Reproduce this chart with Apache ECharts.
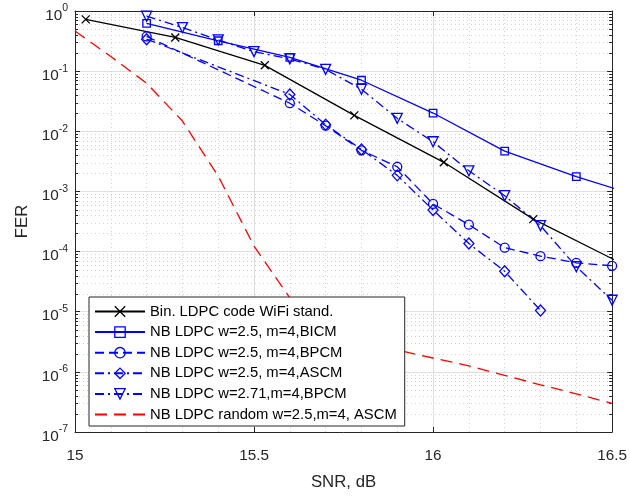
<!DOCTYPE html>
<html>
<head>
<meta charset="utf-8">
<script src="https://cdn.jsdelivr.net/npm/echarts@6/dist/echarts.min.js"></script>
<style>html,body{margin:0;padding:0;background:#fff}#c{width:630px;height:496px}</style>
</head>
<body>
<div id="c"></div>
<script>
// ---- data ----
const seriesNames = [
  'Bin. LDPC code WiFi stand.',
  'NB LDPC w=2.5, m=4,BICM',
  'NB LDPC w=2.5, m=4,BPCM',
  'NB LDPC w=2.5, m=4,ASCM',
  'NB LDPC w=2.71,m=4,BPCM',
  'NB LDPC random w=2.5,m=4, ASCM'
];
const snrBin  = [15.03, 15.28, 15.53, 15.78, 16.03, 16.28, 16.53];
const ferBin  = [0.726, 0.363, 0.125, 0.0184, 0.00305, 0.000346, 0.000062];
const snrBicm = [15.2, 15.4, 15.6, 15.8, 16.0, 16.2, 16.4, 16.6];
const ferBicm = [0.624, 0.32, 0.17, 0.0706, 0.0201, 0.00468, 0.00176, 0.00075];
const snrBpcm = [15.2, 15.6, 15.7, 15.8, 15.9, 16.0, 16.1, 16.2, 16.3, 16.4, 16.5];
const ferBpcm = [0.378, 0.0293, 0.0124, 0.00483, 0.00257, 0.00062, 0.00028, 0.000116, 0.000084, 0.000065, 0.000058];
const snrAscm = [15.2, 15.6, 15.7, 15.8, 15.9, 16.0, 16.1, 16.2, 16.3];
const ferAscm = [0.34, 0.041, 0.0129, 0.005, 0.00185, 0.00049, 0.000136, 0.000047, 0.0000105];
const snrW271 = [15.2, 15.3, 15.4, 15.5, 15.6, 15.7, 15.8, 15.9, 16.0, 16.1, 16.2, 16.3, 16.4, 16.5];
const ferW271 = [0.82, 0.53, 0.33, 0.211, 0.16, 0.107, 0.05, 0.0164, 0.0067, 0.0022, 0.00085, 0.00027, 0.000056, 0.0000155];
const snrRand = [15.0, 15.1, 15.2, 15.3, 15.4, 15.5, 15.6, 15.7, 15.8, 15.9, 16.0, 16.1, 16.2, 16.3, 16.4, 16.5];
const ferRand = [0.466, 0.175, 0.063, 0.0148, 0.0018, 0.000123, 0.000017, 0.0000063, 0.0000035, 0.0000023, 0.0000017, 0.00000126, 0.00000087, 0.00000061, 0.00000043, 0.0000003];

const xMin = 15, xMax = 16.5, xStep = 0.5;
const yMin = 1e-7, yMax = 1;
const yMinorMantissas = [2, 3, 4, 5, 6, 7, 8, 9];
const yDecades = [-7, -6, -5, -4, -3, -2, -1];

// ---- chart ----
const FONT = '"Liberation Sans", Arial, Helvetica, sans-serif';
const AX = '#262626';
const pair = (xs, ys) => xs.map((x, i) => [x, ys[i]]);
const minorVals = [];
yDecades.forEach(e => yMinorMantissas.forEach(m => minorVals.push([xMin, m * Math.pow(10, e)])));

const seriesColors = ['#000000', '#0000ff', '#0000ff', '#0000ff', '#0000ff', '#ff0000'];

function mk(name, xs, ys, color, dash, symbol, size, rot) {
  return {
    name, type: 'line', data: pair(xs, ys),
    symbol, symbolSize: size, symbolRotate: rot || 0, showSymbol: true,
    lineStyle: { color, width: 1.3, type: dash, cap: 'butt' },
    itemStyle: { color: 'transparent', borderColor: color, borderWidth: 1.3 },
    emphasis: { disabled: true }, clip: true, z: 3, animation: false
  };
}

const xName = 'SNR, dB', yName = 'FER';
const chart = echarts.init(document.getElementById('c'), null, { renderer: 'canvas' });
const redSeries = mk(seriesNames[5], snrRand, ferRand, seriesColors[5], [12, 7], 'circle', 1);
redSeries.showSymbol = false;
redSeries.itemStyle = { color: 'transparent', borderColor: 'transparent', borderWidth: 0 };

const legendData = seriesNames.map((n, i) => ({
  name: n,
  itemStyle: i === 5
    ? { color: 'transparent', borderColor: 'transparent', borderWidth: 0 }
    : { color: 'transparent', borderColor: seriesColors[i], borderWidth: 1.3 }
}));

chart.setOption({
  animation: false,
  backgroundColor: '#ffffff',
  grid: { left: 75, top: 11, width: 540, height: 427, containLabel: false },
  legend: {
    data: legendData, orient: 'vertical', left: 89, top: 297,
    itemWidth: 50, itemHeight: 13, itemGap: 5.6, padding: [7, 8, 4, 5],
    backgroundColor: '#ffffff', borderColor: AX, borderWidth: 1, borderRadius: 0,
    selectedMode: false,
    textStyle: { fontSize: 14.8, lineHeight: 14, color: '#000', fontFamily: FONT }
  },
  xAxis: [{
    type: 'value', min: xMin, max: xMax, interval: xStep, position: 'bottom',
    axisLine: { show: true, onZero: false, lineStyle: { color: AX, width: 1 } },
    axisTick: { show: true, inside: true, length: 5, lineStyle: { color: AX } },
    axisLabel: { fontSize: 15.3, color: AX, fontFamily: FONT, margin: 16 },
    splitLine: { show: true, lineStyle: { color: '#dfdfdf', width: 1 } },
    minorTick: { show: false, splitNumber: 5 },
    minorSplitLine: { show: true, lineStyle: { color: '#d2d2d2', width: 1, type: [1, 3] } },
    name: xName, nameLocation: 'middle', nameGap: 42,
    nameTextStyle: { fontSize: 16.8, color: AX, fontFamily: FONT }
  }, {
    type: 'value', min: xMin, max: xMax, interval: xStep, position: 'top',
    axisLine: { show: true, onZero: false, lineStyle: { color: AX, width: 1 } },
    axisTick: { show: true, inside: true, length: 5, lineStyle: { color: AX } },
    axisLabel: { show: false }, splitLine: { show: false }
  }],
  yAxis: [{
    type: 'log', logBase: 10, min: yMin, max: yMax, position: 'left',
    axisLine: { show: true, onZero: false, lineStyle: { color: AX, width: 1 } },
    axisTick: { show: true, inside: true, length: 5, lineStyle: { color: AX } },
    axisLabel: {
      margin: 7, color: AX, fontFamily: FONT,
      formatter: v => '{b|10}{s|' + Math.round(Math.log10(v)) + '}',
      rich: {
        b: { fontSize: 15.3, lineHeight: 24, verticalAlign: 'bottom', color: AX, fontFamily: FONT },
        s: { fontSize: 10.5, padding: [4, 0, 0, 0], verticalAlign: 'top', color: AX, fontFamily: FONT }
      }
    },
    splitLine: { show: true, lineStyle: { color: '#dfdfdf', width: 1 } },
    name: yName, nameLocation: 'middle', nameGap: 44,
    nameTextStyle: { fontSize: 16.8, color: AX, fontFamily: FONT }
  }, {
    type: 'log', logBase: 10, min: yMin, max: yMax, position: 'right',
    axisLine: { show: true, onZero: false, lineStyle: { color: AX, width: 1 } },
    axisTick: { show: true, inside: true, length: 5, lineStyle: { color: AX } },
    axisLabel: { show: false }, splitLine: { show: false }
  }],
  series: [
    {
      type: 'custom', name: 'yMinor', data: minorVals, silent: true, z: 1,
      xAxisIndex: 0, yAxisIndex: 0, clip: false,
      renderItem: function (params, api) {
        const cs = params.coordSys;
        const y = Math.round(api.coord([api.value(0), api.value(1)])[1]) + 0.5;
        return {
          type: 'group', children: [
            { type: 'line', shape: { x1: cs.x, y1: y, x2: cs.x + cs.width, y2: y },
              style: { stroke: '#d2d2d2', lineWidth: 1, lineDash: [1, 3] } },
            { type: 'line', shape: { x1: cs.x, y1: y, x2: cs.x + 3, y2: y },
              style: { stroke: AX, lineWidth: 1 } },
            { type: 'line', shape: { x1: cs.x + cs.width - 3, y1: y, x2: cs.x + cs.width, y2: y },
              style: { stroke: AX, lineWidth: 1 } }
          ]
        };
      }
    },
    mk(seriesNames[0], snrBin, ferBin, seriesColors[0], 'solid', 'path://M0,0L10,10M10,0L0,10', 8),
    mk(seriesNames[1], snrBicm, ferBicm, seriesColors[1], 'solid', 'rect', 7.5),
    mk(seriesNames[2], snrBpcm, ferBpcm, seriesColors[2], [9, 5], 'circle', 9),
    mk(seriesNames[3], snrAscm, ferAscm, seriesColors[3], [9, 4, 2, 4], 'diamond', [10, 11]),
    mk(seriesNames[4], snrW271, ferW271, seriesColors[4], [9, 4, 2, 4], 'triangle', 10, 180),
    redSeries
  ]
});
</script>
</body>
</html>
